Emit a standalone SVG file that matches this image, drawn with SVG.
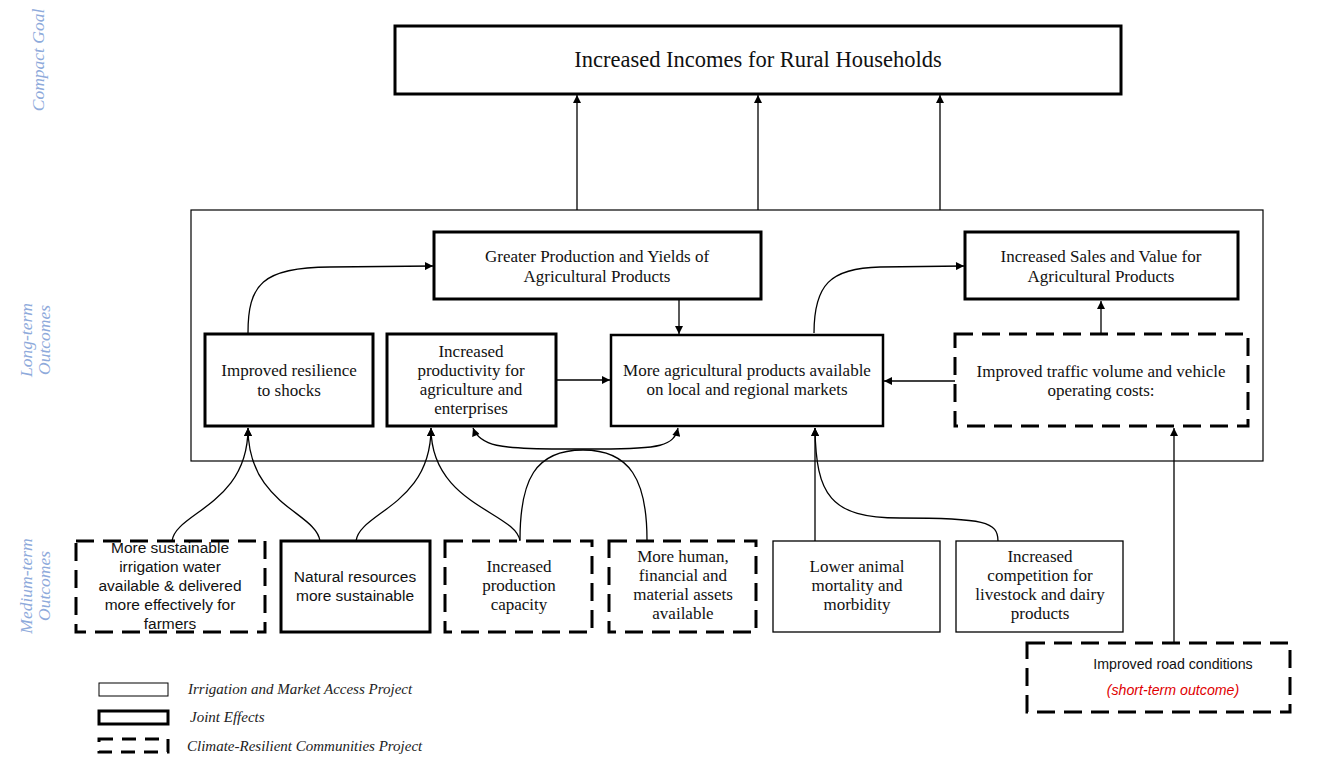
<svg xmlns="http://www.w3.org/2000/svg" width="1330" height="763" viewBox="0 0 1330 763">
<style>
.bg{fill:#fff}
.thick{fill:#fff;stroke:#000;stroke-width:3}
.thin{fill:#fff;stroke:#000;stroke-width:1.3}
.dash{fill:#fff;stroke:#000;stroke-width:3;stroke-dasharray:18 9}
.cont{fill:none;stroke:#000;stroke-width:1.2}
.serif{font-family:"Liberation Serif","Times New Roman",serif;font-size:17px;fill:#111;text-anchor:middle}
.sans{font-family:"Liberation Sans",Arial,sans-serif;font-size:15.5px;fill:#111;text-anchor:middle}
.title{font-family:"Liberation Serif","Times New Roman",serif;font-size:22.5px;fill:#111;text-anchor:middle}
.side{font-family:"Liberation Serif","Times New Roman",serif;font-size:17.5px;font-style:italic;fill:#8EAADB;text-anchor:middle}
.leg{font-family:"Liberation Serif","Times New Roman",serif;font-size:15px;font-style:italic;fill:#222}
.conn path,.conn line{fill:none;stroke:#000;stroke-width:1.3}
.arr{marker-end:url(#ah)}
.arr2{marker-start:url(#ah);marker-end:url(#ah)}
</style>
<defs>
<marker id="ah" viewBox="0 0 10 10" refX="10" refY="5" markerWidth="9" markerHeight="8" orient="auto-start-reverse" markerUnits="userSpaceOnUse"><path d="M0,0 L10,5 L0,10 z" fill="#000"/></marker>
</defs>
<rect class="bg" x="0" y="0" width="1330" height="763"/>

<g id="side-labels">
<text class="side" transform="translate(44,60) rotate(-90)">Compact Goal</text>
<text class="side" transform="translate(32,340) rotate(-90)">Long-term</text>
<text class="side" transform="translate(50,340) rotate(-90)">Outcomes</text>
<text class="side" transform="translate(32,586) rotate(-90)">Medium-term</text>
<text class="side" transform="translate(50,586) rotate(-90)">Outcomes</text>
</g>

<g id="container"><rect class="cont" x="191" y="210" width="1072" height="251"/></g>

<g id="goal"><rect class="thick" x="395" y="26" width="726" height="68"/>
<text class="title" x="758" y="67">Increased Incomes for Rural Households</text></g>

<g id="greater"><rect class="thick" x="434" y="232" width="327" height="67"/>
<text class="serif" x="597" y="262">Greater Production and Yields of</text>
<text class="serif" x="597" y="282">Agricultural Products</text></g>

<g id="sales"><rect class="thick" x="965" y="232" width="273" height="67"/>
<text class="serif" x="1101" y="262">Increased Sales and Value for</text>
<text class="serif" x="1101" y="282">Agricultural Products</text></g>

<g id="resilience"><rect class="thick" x="205" y="334" width="168" height="92"/>
<text class="serif" x="289" y="376">Improved resilience</text>
<text class="serif" x="289" y="396">to shocks</text></g>

<g id="productivity"><rect class="thick" x="387" y="334" width="169" height="92"/>
<text class="serif" x="471" y="357">Increased</text>
<text class="serif" x="471" y="376">productivity for</text>
<text class="serif" x="471" y="395">agriculture and</text>
<text class="serif" x="471" y="414">enterprises</text></g>

<g id="markets"><rect class="thick" x="611" y="335" width="272" height="91" style="stroke-width:2.5"/>
<text class="serif" x="747" y="376">More agricultural products available</text>
<text class="serif" x="747" y="395">on local and regional markets</text></g>

<g id="traffic"><rect class="dash" x="955" y="334" width="293" height="92"/>
<text class="serif" x="1101" y="377">Improved traffic volume and vehicle</text>
<text class="serif" x="1101" y="396">operating costs:</text></g>

<g id="irrigation"><rect class="dash" x="76" y="541" width="189" height="91"/>
<text class="sans" x="170" y="553">More sustainable</text>
<text class="sans" x="170" y="572">irrigation water</text>
<text class="sans" x="170" y="591">available &amp; delivered</text>
<text class="sans" x="170" y="610">more effectively for</text>
<text class="sans" x="170" y="629">farmers</text></g>

<g id="natural"><rect class="thick" x="281" y="541" width="149" height="91"/>
<text class="sans" x="355" y="582">Natural resources</text>
<text class="sans" x="355" y="601">more sustainable</text></g>

<g id="capacity"><rect class="dash" x="445" y="541" width="147" height="91"/>
<text class="serif" x="519" y="572">Increased</text>
<text class="serif" x="519" y="591">production</text>
<text class="serif" x="519" y="610">capacity</text></g>

<g id="assets"><rect class="dash" x="609" y="541" width="147" height="91"/>
<text class="serif" x="683" y="562">More human,</text>
<text class="serif" x="683" y="581">financial and</text>
<text class="serif" x="683" y="600">material assets</text>
<text class="serif" x="683" y="619">available</text></g>

<g id="animal"><rect class="thin" x="773" y="541" width="167" height="91"/>
<text class="serif" x="857" y="572">Lower animal</text>
<text class="serif" x="857" y="591">mortality and</text>
<text class="serif" x="857" y="610">morbidity</text></g>

<g id="competition"><rect class="thin" x="956" y="541" width="167" height="91"/>
<text class="serif" x="1040" y="562">Increased</text>
<text class="serif" x="1040" y="581">competition for</text>
<text class="serif" x="1040" y="600">livestock and dairy</text>
<text class="serif" x="1040" y="619">products</text></g>

<g id="road"><rect class="dash" x="1027" y="643" width="263" height="69"/>
<text class="sans" x="1173" y="669" style="font-size:14.2px">Improved road conditions</text>
<text class="sans" x="1173" y="695" style="font-size:14.2px;font-style:italic;fill:#E00000">(short-term outcome)</text></g>

<g class="conn" id="connectors">
<line class="arr" x1="577" y1="210" x2="577" y2="95"/>
<line class="arr" x1="758" y1="210" x2="758" y2="95"/>
<line class="arr" x1="940" y1="210" x2="940" y2="95"/>
<path class="arr" d="M248,333 C248,285 262,267 330,267 L433,266"/>
<path class="arr" d="M814,333 C814,285 830,268 880,267 L964,266"/>
<line class="arr" x1="679" y1="300" x2="679" y2="334"/>
<line class="arr" x1="1101" y1="333" x2="1101" y2="301"/>
<line class="arr" x1="955" y1="381" x2="884" y2="381"/>
<line class="arr" x1="556" y1="380" x2="610" y2="380"/>
<path class="arr2" d="M473,428 C480,446 500,449 560,449 L600,449 C660,449 674,446 678,428"/>
<path d="M520,540 C520,480 535,450 583,450 C630,450 647,480 647,540"/>
<path class="arr" d="M172,541 C176,512 248,505 248,428"/>
<path class="arr" d="M320,541 C316,512 248,505 248,428"/>
<path class="arr" d="M356,541 C360,512 431,505 431,428"/>
<path class="arr" d="M520,541 C516,512 431,505 431,428"/>
<line class="arr" x1="815" y1="541" x2="815" y2="428"/>
<path class="arr" d="M998,541 C998,522 985,518 900,518 C830,518 816,495 815,428"/>
<line class="arr" x1="1174" y1="643" x2="1174" y2="428"/>
</g>

<g id="legend">
<rect class="thin" x="99" y="683" width="69" height="13" style="stroke-width:1"/>
<rect class="thick" x="99" y="711" width="69" height="13"/>
<rect class="dash" x="99" y="739" width="69" height="13" style="stroke-dasharray:14 9"/>
<text class="leg" x="188" y="694">Irrigation and Market Access Project</text>
<text class="leg" x="190" y="722">Joint Effects</text>
<text class="leg" x="187" y="751">Climate-Resilient Communities Project</text>
</g>
</svg>
